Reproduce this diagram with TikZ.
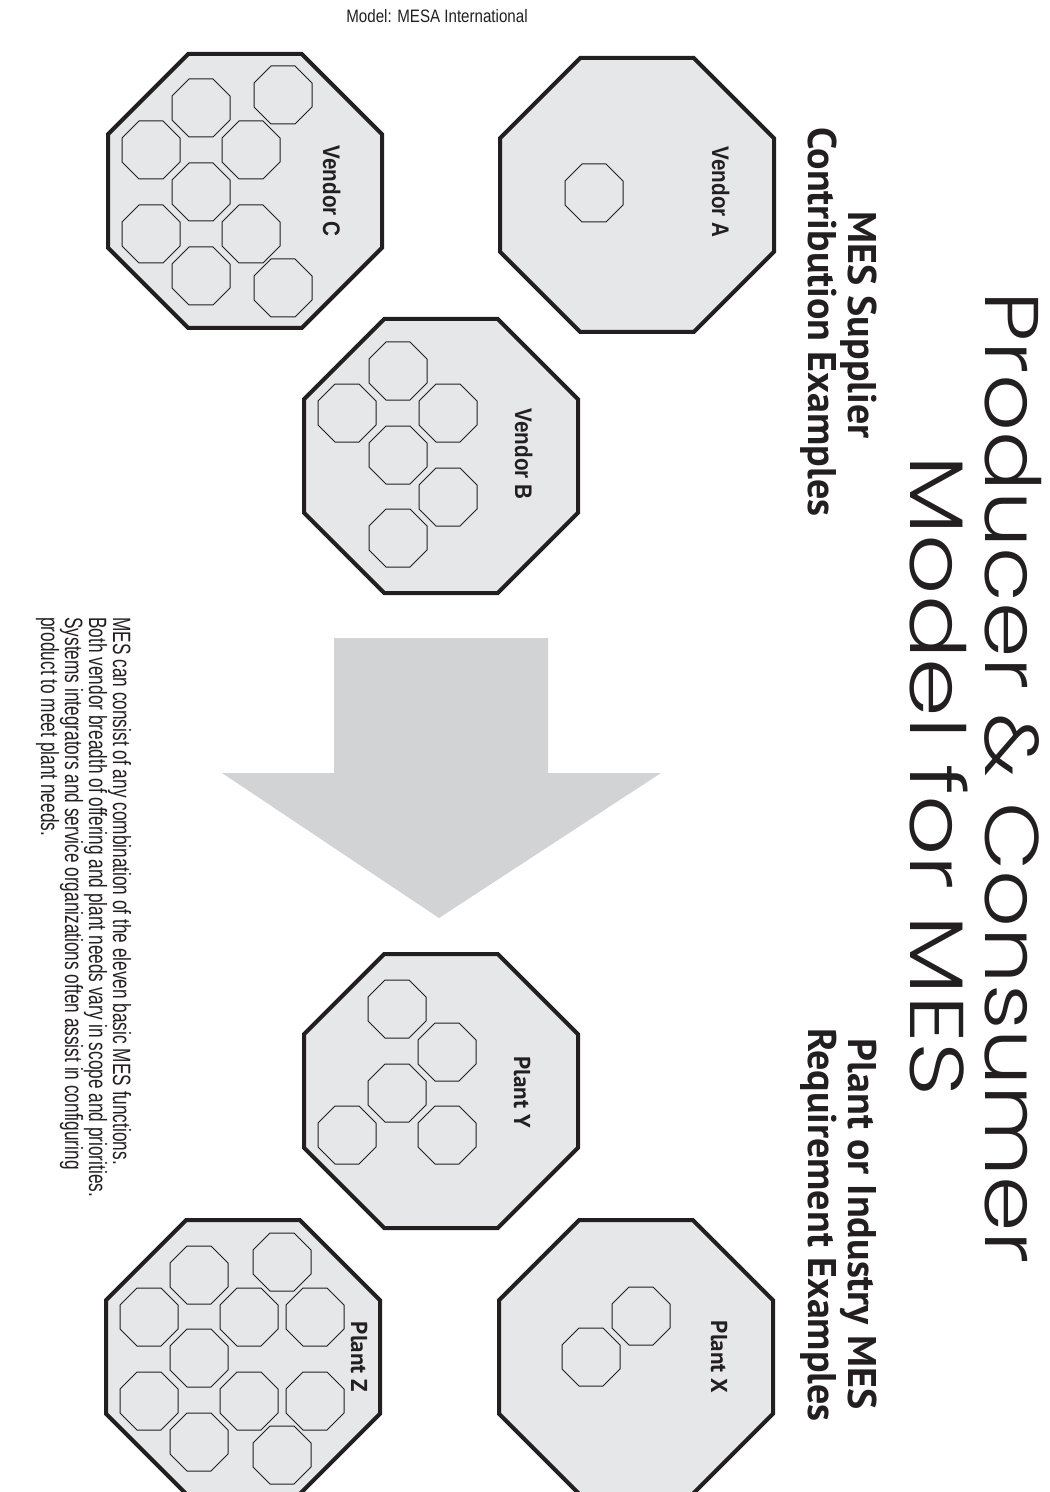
\documentclass[tikz,border=0pt]{standalone}
\usepackage{fontspec}
\setmainfont{Liberation Sans}
\newfontfamily\titlefont[FakeStretch=1.17]{Poppins Light}
\newfontfamily\titlefontb[FakeStretch=1.24]{Poppins Light}
\newfontfamily\headfont{PT Sans Bold}
\newfontfamily\vendorfont[FakeStretch=0.86]{Liberation Sans Bold}
\newfontfamily\bodyfont[FakeStretch=0.69]{Liberation Sans}
\newfontfamily\smallcond[FakeStretch=0.84]{Liberation Sans}
\definecolor{ink}{HTML}{231F20}
\definecolor{octfill}{HTML}{E6E7E8}
\definecolor{arrowgray}{HTML}{D1D3D4}
\newcommand\octo[4]{%
  \path[#1] ({#2+#4},{#3-0.414214*#4}) -- ({#2+#4},{#3+0.414214*#4})
   -- ({#2+0.414214*#4},{#3+#4}) -- ({#2-0.414214*#4},{#3+#4})
   -- ({#2-#4},{#3+0.414214*#4}) -- ({#2-#4},{#3-0.414214*#4})
   -- ({#2-0.414214*#4},{#3-#4}) -- ({#2+0.414214*#4},{#3-#4}) -- cycle;}
\newcommand\bigoct[2]{\octo{bigoctstyle}{#1}{#2}{137}}
\newcommand\smalloct[2]{\octo{smalloctstyle}{#1}{#2}{29}}
\tikzset{
  bigoctstyle/.style={draw=ink,fill=octfill,line width=2pt,line join=miter},
  smalloctstyle/.style={draw=ink,line width=0.5pt},
  titletext/.style={rotate=-90,anchor=base,inner sep=0pt,text=ink,font=\titlefont\fontsize{38}{40}\selectfont},
  headtext/.style={rotate=-90,anchor=base,inner sep=0pt,text=ink,font=\headfont\fontsize{20}{22}\selectfont},
  vendorlabel/.style={rotate=-90,anchor=base,inner sep=0pt,text=ink,font=\vendorfont\fontsize{12}{14}\selectfont},
  plantlabel/.style={rotate=-90,anchor=base,inner sep=0pt,text=ink,font=\headfont\fontsize{11.5}{13}\selectfont},
  bodytext/.style={rotate=-90,anchor=base west,inner sep=0pt,text=ink,font=\bodyfont\fontsize{12.5}{14}\selectfont},
}
\begin{document}
\begin{tikzpicture}[x=0.5pt,y=-0.5pt]
\useasboundingbox (0,0) rectangle (1049,1492);

% source label
\node[anchor=base,inner sep=0pt,text=ink,font=\smallcond\fontsize{9}{10}\selectfont] (src) at (437,23) {Model: MESA International};

% big arrow
\fill[arrowgray] (334,638) -- (548,638) -- (548,773) -- (661,773) -- (439,918) -- (222,773) -- (334,773) -- cycle;
\coordinate (arrowtip) at (439,918);

% Vendor A
\bigoct{637}{195}
\smalloct{594}{193}
\node[vendorlabel] (va) at (712,192) {Vendor A};

% Vendor C
\bigoct{245}{191}
\smalloct{283}{95}
\smalloct{201}{108}
\smalloct{151}{150}
\smalloct{251}{150}
\smalloct{201}{192}
\smalloct{151}{234}
\smalloct{251}{234}
\smalloct{201}{276}
\smalloct{283}{288}
\node[vendorlabel] (vc) at (323,191) {Vendor C};

% Vendor B
\bigoct{441}{456}
\smalloct{398}{371}
\smalloct{347}{413}
\smalloct{448}{413}
\smalloct{398}{455}
\smalloct{448}{497}
\smalloct{398}{538}
\node[vendorlabel] (vb) at (515,454) {Vendor B};

% Plant X
\bigoct{636}{1357}
\smalloct{641}{1316}
\smalloct{591}{1357}
\node[plantlabel] (px) at (711,1357) {Plant X};

% Plant Y
\bigoct{441}{1091}
\smalloct{397}{1009}
\smalloct{447}{1052}
\smalloct{397}{1093}
\smalloct{347}{1135}
\smalloct{447}{1135}
\node[plantlabel] (py) at (514,1092) {Plant Y};

% Plant Z
\bigoct{243}{1357}
\smalloct{282}{1262}
\smalloct{199}{1275}
\smalloct{149}{1317}
\smalloct{249}{1317}
\smalloct{315}{1317}
\smalloct{199}{1358}
\smalloct{149}{1401}
\smalloct{249}{1401}
\smalloct{315}{1401}
\smalloct{199}{1442}
\smalloct{282}{1455}
\node[plantlabel] (pz) at (351,1357) {Plant Z};

% Title
\node[titletext] (t1) at (985,778) {Producer \& Consumer};
\node[titletext,font=\titlefontb\fontsize{38}{40}\selectfont] (t2) at (910,776) {Model for MES};

% Headings
\node[headtext] (h1a) at (848,325) {MES Supplier};
\node[headtext] (h1b) at (808,322) {Contribution Examples};
\node[headtext] (h2a) at (848,1224) {Plant or Industry MES};
\node[headtext] (h2b) at (808,1225) {Requirement Examples};

% Body text
\node[bodytext] (b1) at (113,617) {MES can consist of any combination of the eleven basic MES functions.};
\node[bodytext] (b2) at (89,617) {Both vendor breadth of offering and plant needs vary in scope and priorities.};
\node[bodytext] (b3) at (65,617) {Systems integrators and service organizations often assist in configuring};
\node[bodytext] (b4) at (41,617) {product to meet plant needs.};
\end{tikzpicture}
\end{document}
